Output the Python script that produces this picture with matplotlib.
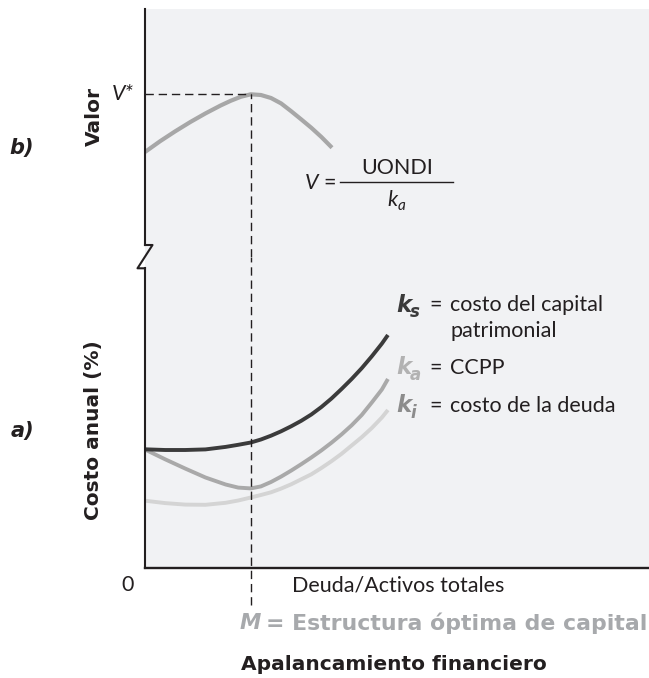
import matplotlib.pyplot as plt
from matplotlib.lines import Line2D

plt.rcParams['font.family'] = ['Lato', 'DejaVu Sans']
BOLD = ['DejaVu Sans']

W, H = 649, 678

# deuda / activos totales (%) y costos anuales (%)
deuda = [0, 4, 8, 12, 16, 18.5, 21, 23, 25, 27, 29, 31, 33, 35, 37, 39, 41, 43, 45, 47, 48.2]
k_s = [11.87, 11.8, 11.8, 11.86, 12.11, 12.32, 12.55, 12.85, 13.23, 13.67, 14.17,
       14.72, 15.35, 16.1, 16.95, 17.9, 18.9, 19.98, 21.17, 22.44, 23.3]
k_a = [11.85, 10.87, 9.94, 9.05, 8.35, 8.04, 7.96, 8.16, 8.6, 9.14, 9.74,
       10.38, 11.05, 11.76, 12.53, 13.36, 14.27, 15.3, 16.55, 17.85, 18.9]
k_i = [6.73, 6.49, 6.34, 6.32, 6.52, 6.75, 7.05, 7.3, 7.57, 7.94, 8.37,
       8.87, 9.37, 10.0, 10.68, 11.42, 12.25, 13.08, 14.0, 15.05, 15.8]

# valor de la empresa
deuda_v = [0, 3, 6, 9, 12, 15, 17, 19, 21, 23, 25, 27, 29, 31, 33, 35, 37.1]
valor = [10.5, 11.58, 12.57, 13.5, 14.36, 15.15, 15.62, 16.02, 16.27, 16.2, 15.9,
         15.36, 14.58, 13.76, 12.92, 12.0, 10.93]

M = deuda[k_a.index(min(k_a))]
V_star = max(valor)

PANEL = '#f1f2f4'
AXIS = '#231f20'


def fx(x):
    return x / W


def fy(y):
    return 1 - y / H


fig = plt.figure(figsize=(W / 100, H / 100), dpi=100)

ax_v = fig.add_axes([fx(145), fy(257), fx(504), 248 / H])
ax_c = fig.add_axes([fx(145), fy(568), fx(504), 311 / H])

for ax in (ax_v, ax_c):
    ax.set_facecolor(PANEL)
    ax.set_xlim(0, 100)
    ax.set_xticks([])
    ax.set_yticks([])
    for side in ('top', 'right', 'bottom', 'left'):
        ax.spines[side].set_visible(False)
    ax.spines['left'].set_visible(True)
    ax.spines['left'].set_color(AXIS)
    ax.spines['left'].set_linewidth(1.5)

ax_v.set_ylim(0, 24.8)
ax_v.spines['left'].set_bounds(1.2, 24.8)
ax_c.set_ylim(0, 31.1)
ax_c.spines['left'].set_bounds(0, 30)
ax_c.spines['bottom'].set_visible(True)
ax_c.spines['bottom'].set_color(AXIS)
ax_c.spines['bottom'].set_linewidth(1.7)

# corte del eje vertical
zx = [145, 152.5, 137.5, 145]
zy = [245, 245, 268.3, 268.3]
fig.add_artist(Line2D([fx(v) for v in zx], [fy(v) for v in zy],
                      color=AXIS, lw=1.5, transform=fig.transFigure))

line_kw = dict(solid_capstyle='butt', solid_joinstyle='round')
dash = (0, (6, 3.5))

# b) valor
ax_v.plot(deuda_v, valor, color='#a7a7a7', lw=3.0, **line_kw)
ax_v.plot([0, M], [V_star, V_star], color=AXIS, lw=1.0, ls=dash)
ax_v.plot([M, M], [0, V_star], color=AXIS, lw=1.0, ls=dash)

# a) costos
ax_c.plot(deuda, k_i, color='#d4d4d4', lw=2.8, **line_kw)
ax_c.plot(deuda, k_a, color='#a9a9a9', lw=2.8, **line_kw)
ax_c.plot(deuda, k_s, color='#3b3b3b', lw=2.8, **line_kw)
ax_c.plot([M, M], [-3.7, 31.1], color=AXIS, lw=1.0, ls=dash, clip_on=False)

# etiquetas
for y, txt in ((148, 'b)'), (431, 'a)')):
    fig.text(fx(22), fy(y), txt, fontsize=15, family=BOLD, fontweight='bold',
             fontstyle='italic', ha='center', va='center', color=AXIS)
fig.text(fx(94), fy(116), 'Valor', fontsize=14.5, family=BOLD, fontweight='bold',
         rotation=90, ha='center', va='center', color=AXIS)
fig.text(fx(94), fy(430), 'Costo anual (%)', fontsize=14.5, family=BOLD,
         fontweight='bold', rotation=90, ha='center', va='center', color=AXIS)
fig.text(fx(134), fy(94), 'V*', fontsize=15.5, fontstyle='italic',
         ha='right', va='center', color=AXIS)

# V = UONDI / k_a
fig.text(fx(318), fy(183), 'V', fontsize=15.5, fontstyle='italic',
         ha='right', va='center', color=AXIS)
fig.text(fx(330), fy(183), '=', fontsize=15.5, ha='center', va='center', color=AXIS)
fig.add_artist(Line2D([fx(340), fx(453)], [fy(182), fy(182)], color=AXIS, lw=1.0,
                      transform=fig.transFigure))
fig.text(fx(397), fy(168), 'UONDI', fontsize=15.5, ha='center', va='center', color=AXIS)
fig.text(fx(398), fy(200), 'k', fontsize=15.5, fontstyle='italic',
         ha='right', va='center', color=AXIS)
fig.text(fx(398), fy(206), 'a', fontsize=11, fontstyle='italic',
         ha='left', va='center', color=AXIS)

# leyenda de las curvas
legend_rows = [
    ('s', '#3b3b3b', 305, ['costo del capital', 'patrimonial']),
    ('a', '#b2b2b2', 368, ['CCPP']),
    ('i', '#8c8c8c', 406, ['costo de la deuda']),
]
for sub, col, y, lines in legend_rows:
    fig.text(fx(396), fy(y), 'k', fontsize=16.5, family=BOLD, fontweight='bold',
             fontstyle='italic', ha='left', va='center', color=col)
    fig.text(fx(410), fy(y + 7), sub, fontsize=12, family=BOLD, fontweight='bold',
             fontstyle='italic', ha='left', va='center', color=col)
    fig.text(fx(436), fy(y), '=', fontsize=15.5, ha='center', va='center', color=AXIS)
    for n, txt in enumerate(lines):
        fig.text(fx(450), fy(y + 26 * n), txt, fontsize=15.5, ha='left', va='center',
                 color=AXIS)

fig.text(fx(128), fy(585), '0', fontsize=15.5, ha='center', va='center', color=AXIS)
fig.text(fx(292), fy(585), 'Deuda/Activos totales', fontsize=15.5, ha='left',
         va='center', color=AXIS)
fig.text(fx(240), fy(623), 'M', fontsize=15.5, family=BOLD, fontweight='bold',
         fontstyle='italic', ha='left', va='center', color='#a7a9ac')
fig.text(fx(266), fy(623), '= Estructura óptima de capital', fontsize=15.8,
         family=BOLD, fontweight='bold', ha='left', va='center', color='#a7a9ac')
fig.text(fx(241), fy(664), 'Apalancamiento financiero', fontsize=14.5, family=BOLD,
         fontweight='bold', ha='left', va='center', color=AXIS)

fig.savefig('out.png', dpi=100, facecolor='white')
